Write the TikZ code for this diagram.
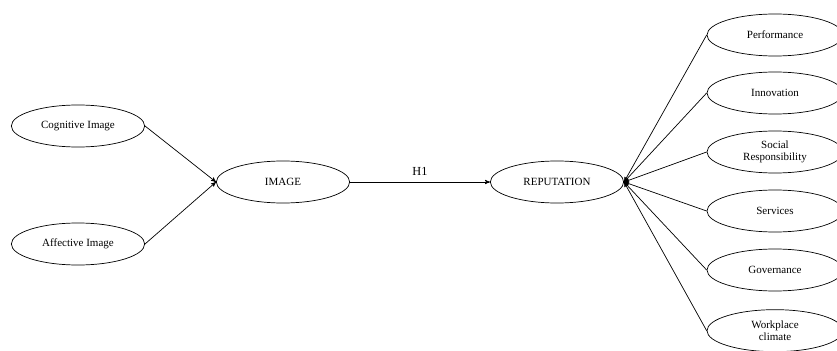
\documentclass[tikz,border=0pt]{standalone}
\usepackage{fontspec}
\setmainfont{Liberation Serif}
\usepackage{tikz}
\usetikzlibrary{arrows}
\usetikzlibrary{shapes}

\begin{document}
\begin{tikzpicture}[->,semithick,>=stealth',scale=1.0]
    \tikzstyle{label}=[text=black]
    \tikzstyle{construct}=[draw, ellipse, inner sep=0pt, minimum width=4.0cm, minimum height=1.26cm, fill=none, text=black, font=\fontsize{9.4}{10.5}\selectfont, align=center]
    \tikzstyle{dimension}=[style=construct, minimum width=4.08cm]

    \useasboundingbox (0,0) rectangle (25.11,10.5);

    \node[construct]  (COG) at (2.34,6.72)  {Cognitive Image};
    \node[construct]  (AFF) at (2.34,3.18)  {Affective Image};
    \node[construct]  (IMG) at (8.49,5.04)  {IMAGE};
    \node[construct]  (REP) at (16.71,5.04) {REPUTATION};

    \node[dimension]  (PER) at (23.25,9.45) {Performance};
    \node[dimension]  (INN) at (23.25,7.71) {Innovation};
    \node[dimension]  (SOC) at (23.25,5.94) {Social\\Responsibility};
    \node[dimension]  (SER) at (23.25,4.17) {Services};
    \node[dimension]  (GOV) at (23.25,2.40) {Governance};
    \node[dimension]  (WOR) at (23.25,0.58) {Workplace\\climate};

    \path[every node/.style={anchor=south, font=\fontsize{10.5}{12}\selectfont}]
     (COG.east) edge (IMG.west)
     (AFF.east) edge (IMG.west)
     (IMG) edge node[yshift=2pt] {H1} (REP)
     (PER.west) edge (REP.east)
     (INN.west) edge (REP.east)
     (SOC.west) edge (REP.east)
     (SER.west) edge (REP.east)
     (GOV.west) edge (REP.east)
     (WOR.west) edge (REP.east);
  \end{tikzpicture}
\end{document}
